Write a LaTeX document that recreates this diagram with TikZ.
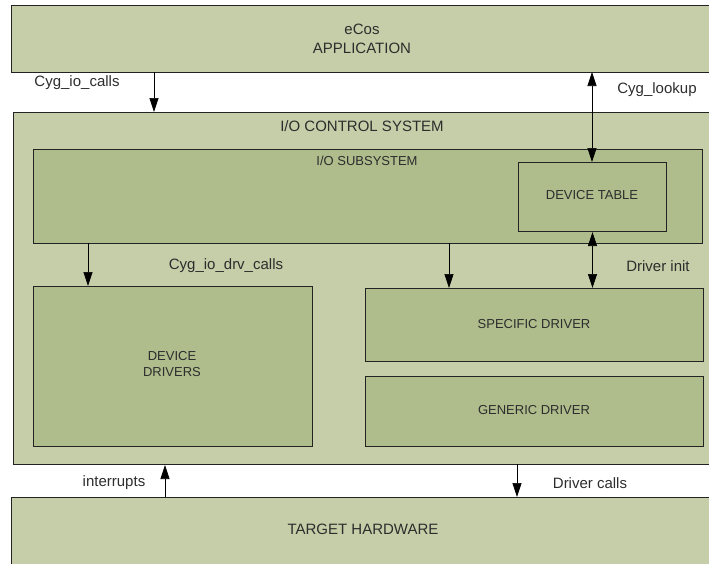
\documentclass[tikz,border=0pt]{standalone}
\usepackage{fontspec}
\setmainfont{Liberation Sans}
\usetikzlibrary{arrows.meta}
\definecolor{outerg}{RGB}{197,206,168}
\definecolor{innerg}{RGB}{175,189,140}
\definecolor{inkc}{RGB}{35,35,35}
\definecolor{textc}{RGB}{45,45,45}
\begin{document}
\begin{tikzpicture}[x=1pt,y=-1pt,
  box/.style={draw=inkc, line width=1pt, fill=outerg, inner sep=0pt, anchor=north west},
  ibox/.style={box, fill=innerg},
  big/.style={font=\fontsize{15}{19}\selectfont, text=textc, inner sep=0pt, align=center},
  small/.style={font=\fontsize{13}{16}\selectfont, text=textc, inner sep=0pt, align=center},
  arr/.style={-{Triangle[length=14pt,width=9pt]}, line width=0.7pt, draw=black},
  darr/.style={{Triangle[length=14pt,width=9pt]}-{Triangle[length=14pt,width=9pt]}, line width=0.7pt, draw=black}]
\useasboundingbox (0,0) rectangle (709,563);
\clip (0,0) rectangle (709,563);
% boxes
\node[box, minimum width=702pt, minimum height=67pt] (app) at (11,5) {};
\node[box, minimum width=700pt, minimum height=352pt] (ctrl) at (13,112) {};
\node[ibox, minimum width=669pt, minimum height=94pt] (sub) at (33,149) {};
\node[ibox, minimum width=148pt, minimum height=69pt] (tbl) at (518,162) {};
\node[ibox, minimum width=279pt, minimum height=160pt] (dd) at (33,286) {};
\node[ibox, minimum width=338pt, minimum height=73pt] (spec) at (365,288) {};
\node[ibox, minimum width=338pt, minimum height=70pt] (gen) at (365,376) {};
\node[box, minimum width=702pt, minimum height=80pt] (hw) at (11,497) {};
% texts
\node[big] (apptxt) at (362,39) {eCos\\APPLICATION};
\node[big] (ctrltxt) at (362,126) {I/O CONTROL SYSTEM};
\node[small] (subtxt) at (367,161) {I/O SUBSYSTEM};
\node[small] (tbltxt) at (592,195) {DEVICE TABLE};
\node[small] (ddtxt) at (172,364) {DEVICE\\DRIVERS};
\node[small] (spectxt) at (534,324) {SPECIFIC DRIVER};
\node[small] (gentxt) at (534,410) {GENERIC DRIVER};
\node[big] (hwtxt) at (363,529) {TARGET HARDWARE};
% connectors
\coordinate (c1) at (154,72);
\coordinate (c2) at (592,72);
\draw[arr] (c1) -- (c1 |- ctrl.north);
\draw[darr] (c2) -- (c2 |- tbl.north);
\coordinate (d1) at (88,243);
\coordinate (d2) at (449,243);
\draw[arr] (d1) -- (d1 |- dd.north);
\draw[arr] (d2) -- (d2 |- spec.north);
\draw[darr] (tbl.south) -- (tbl.south |- spec.north);
\coordinate (e1) at (165,497);
\coordinate (e2) at (517,464);
\draw[arr] (e1) -- (e1 |- ctrl.south);
\draw[arr] (e2) -- (e2 |- hw.north);
% labels
\node[big] (l1) at (77,83) {Cyg\_io\_calls};
\node[big] (l2) at (657,90) {Cyg\_lookup};
\node[big] (l3) at (226,266) {Cyg\_io\_drv\_calls};
\node[big] (l4) at (658,266) {Driver init};
\node[big] (l5) at (114,483) {interrupts};
\node[big] (l6) at (590,483) {Driver calls};
\end{tikzpicture}
\end{document}
